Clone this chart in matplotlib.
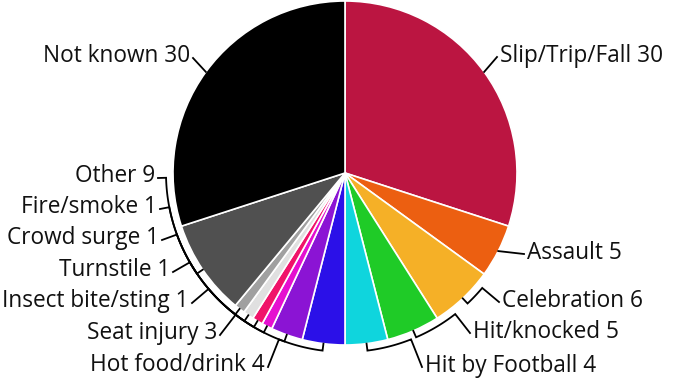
import numpy as np
import matplotlib.pyplot as plt

causes = ["Slip/Trip/Fall", "Assault", "Celebration", "Hit/knocked", "Hit by Football",
          "Hot food/drink", "Seat injury", "Insect bite/sting", "Turnstile",
          "Crowd surge", "Fire/smoke", "Other", "Not known"]
counts = [30, 5, 6, 5, 4, 4, 3, 1, 1, 1, 1, 9, 30]
colors = ["#bb1541", "#ec5f11", "#f5b027", "#1fcb27", "#0fd5dd", "#2b10e8",
          "#8b14d4", "#e50fd0", "#f0136a", "#e0e0e0", "#a0a0a0", "#505050", "#000000"]

# label layout, pixels from top-left: (text edge x, baseline y)
label_xy = [(500, 62), (527, 259), (502, 307), (473, 338), (425, 372),
            (265, 371), (217, 339), (189, 307), (170, 276), (159, 244),
            (157, 213), (155, 182), (190, 62)]

W, H = 679, 384
cx, cy, r = 345, H - 173, 172
r2 = r + 7

fig = plt.figure(figsize=(W / 100, H / 100), dpi=100)
ax = fig.add_axes([0, 0, 1, 1])
ax.pie(counts, colors=colors, center=(cx, cy), radius=r, startangle=90,
       counterclock=False, wedgeprops=dict(edgecolor="white", linewidth=1.2))
ax.set_xlim(0, W)
ax.set_ylim(0, H)
ax.set_aspect("equal")
ax.axis("off")

total = sum(counts)
cum = np.cumsum([0] + counts[:-1])
for name, n, c0, (lx, lb) in zip(causes, counts, cum, label_xy):
    mid = np.radians(90 - 360 * (c0 + n / 2) / total)
    left = lx < cx
    ty = H - lb
    end = (lx + 3, ty + 4) if left else (lx - 3, ty + 5)
    ang_l = np.arctan2(end[1] - cy, end[0] - cx)
    d = (ang_l - mid + np.pi) % (2 * np.pi) - np.pi
    if abs(d) < np.radians(3):
        # big slices: plain straight leader
        xs = [cx + r * np.cos(mid), end[0]]
        ys = [cy + r * np.sin(mid), end[1]]
    else:
        arc = np.linspace(mid, mid + d, 40)
        xs = [cx + r * np.cos(mid)] + list(cx + r2 * np.cos(arc)) + [end[0]]
        ys = [cy + r * np.sin(mid)] + list(cy + r2 * np.sin(arc)) + [end[1]]
    ax.plot(xs, ys, color="black", lw=1.3, solid_joinstyle="miter")
    ax.text(lx, ty, f"{name} {n}", ha="right" if left else "left", va="baseline",
            fontsize=16.3, family="Open Sans", color="#111111")

fig.savefig("out.png", dpi=100)
